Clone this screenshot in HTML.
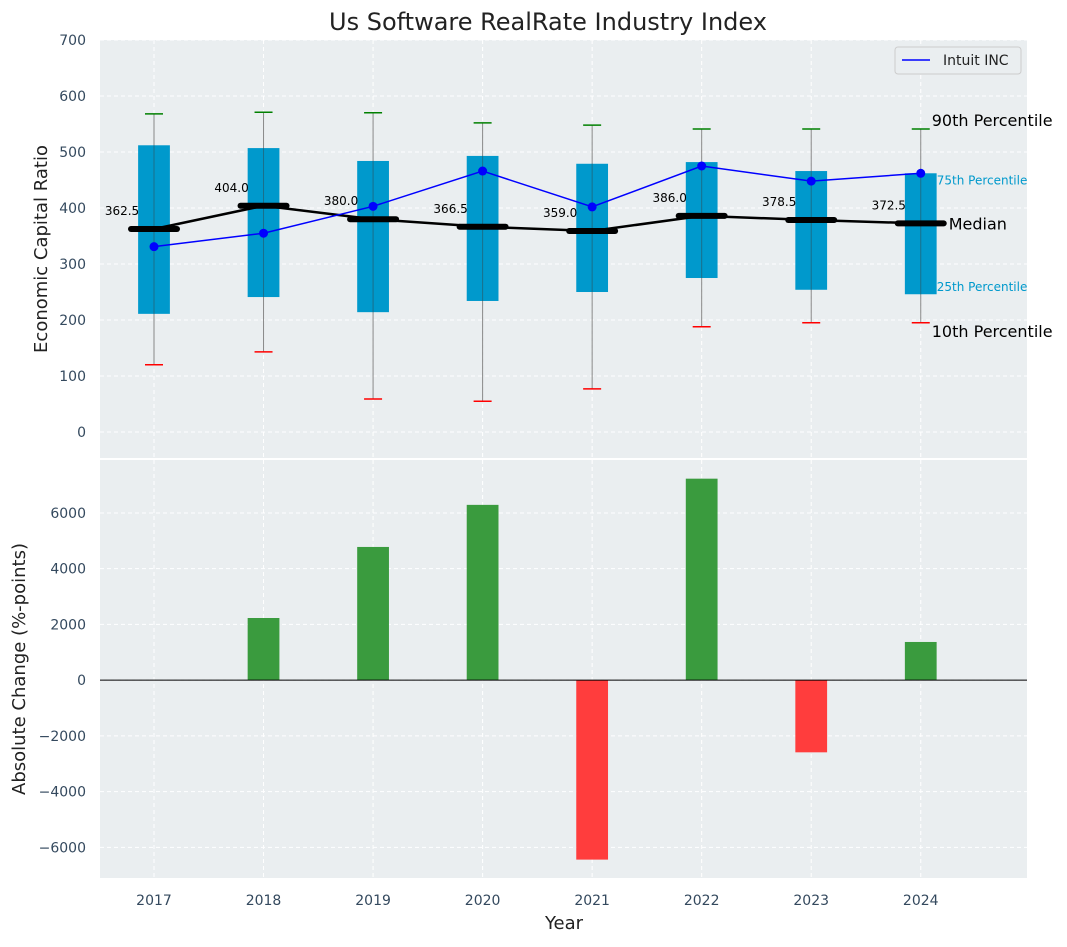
<!DOCTYPE html>
<html><head><meta charset="utf-8"><style>
body{margin:0;background:#fff;font-family:"Liberation Sans","DejaVu Sans",sans-serif}
</style></head><body>
<svg id="c" width="1067" height="942" xmlns="http://www.w3.org/2000/svg" font-family="DejaVu Sans, Liberation Sans, sans-serif"></svg>
<script>
const years=[2017,2018,2019,2020,2021,2022,2023,2024];
const p10=[120,143,59,55,77,188,195,195];
const p25=[211,241,214,234,250,275,254,246];
const med=[362.5,404.0,380.0,366.5,359.0,386.0,378.5,372.5];
const p75=[512,507,484,493,479,482,466,462];
const p90=[568,571,570,552,548,541,541,541];
const intuit=[331,355,403,466,402,475,448,462];
const change=[0,2230,4780,6290,-6440,7230,-2590,1370];
const topTicks=[0,100,200,300,400,500,600,700];
const botTicks=[-6000,-4000,-2000,0,2000,4000,6000];

const svg=document.getElementById('c');const NS='http://www.w3.org/2000/svg';
function el(t,a,p){const e=document.createElementNS(NS,t);for(const k in a)e.setAttribute(k,a[k]);(p||svg).appendChild(e);return e;}
const L=100,R=1027;
const X=v=>L+(v-2016.507)/(2024.97-2016.507)*(R-L);
const T0=40,T1=458,B0=460,B1=878;
const Y1=v=>T0+(700-v)/(746.4)*(T1-T0);
const Y2=v=>B0+(7900-v)/(15000)*(B1-B0);
let e=el('rect',{x:L,y:T0,width:R-L,height:T1-T0,fill:'#eaeef0'});

e=el('rect',{x:L,y:B0,width:R-L,height:B1-B0,fill:'#eaeef0'});

years.forEach(y=>{el('line',{x1:X(y),x2:X(y),y1:T0,y2:T1,stroke:'#fff','stroke-dasharray':'4,3'});el('line',{x1:X(y),x2:X(y),y1:B0,y2:B1,stroke:'#fff','stroke-dasharray':'4,3'});});
topTicks.forEach(v=>{el('line',{x1:L,x2:R,y1:Y1(v),y2:Y1(v),stroke:'#fff','stroke-dasharray':'4,3'});
 const t=el('text',{x:L-14,y:Y1(v)+5,'text-anchor':'end','font-size':14,fill:'#34495e'});t.textContent=v;
 });
botTicks.forEach(v=>{el('line',{x1:L,x2:R,y1:Y2(v),y2:Y2(v),stroke:'#fff','stroke-dasharray':'4,3'});
 const t=el('text',{x:L-14,y:Y2(v)+5,'text-anchor':'end','font-size':14,fill:'#34495e'});t.textContent=v<0?'\u2212'+(-v):v;
 });
years.forEach(y=>{const t=el('text',{x:X(y),y:905,'text-anchor':'middle','font-size':14,fill:'#34495e'});t.textContent=y;
 });
const bw=0.29*(X(1)-X(0));
years.forEach((y,i)=>{const cx=X(y);
 el('line',{x1:cx,x2:cx,y1:Y1(p90[i]),y2:Y1(p10[i]),stroke:'#888','stroke-width':1});
 const b=el('rect',{x:cx-bw/2,y:Y1(p75[i]),width:bw,height:Y1(p25[i])-Y1(p75[i]),fill:'#0099cc'});
 
 el('line',{x1:cx,x2:cx,y1:Y1(p75[i]),y2:Y1(p25[i]),stroke:'#1a6f8a','stroke-width':1});
 el('line',{x1:cx-9,x2:cx+9,y1:Y1(p90[i]),y2:Y1(p90[i]),stroke:'green','stroke-width':1.5});
 el('line',{x1:cx-9,x2:cx+9,y1:Y1(p10[i]),y2:Y1(p10[i]),stroke:'red','stroke-width':1.5});
 const m=el('line',{x1:cx-23,x2:cx+23,y1:Y1(med[i]),y2:Y1(med[i]),stroke:'#000','stroke-width':6,'stroke-linecap':'round'});
 
 const t=el('text',{x:cx-32,y:Y1(med[i])-14,'text-anchor':'middle','font-size':12,fill:'#000'});t.textContent=med[i].toFixed(1);
 
});
let pl=el('polyline',{points:years.map((y,i)=>X(y)+','+Y1(med[i])).join(' '),fill:'none',stroke:'#000','stroke-width':2.5});

pl=el('polyline',{points:years.map((y,i)=>X(y)+','+Y1(intuit[i])).join(' '),fill:'none',stroke:'blue','stroke-width':1.5});

years.forEach((y,i)=>{const c=el('circle',{cx:X(y),cy:Y1(intuit[i]),r:4.5,fill:'blue'});
 });
const li=years.length-1;
[['90th Percentile',X(2024)+11,Y1(p90[li])-3,16,'#000'],['75th Percentile',X(2024)+16,Y1(p75[li])+11,12,'#0099cc'],['Median',X(2024)+28,Y1(med[li])+6,16,'#000'],['25th Percentile',X(2024)+16,Y1(p25[li])-3,12,'#0099cc'],['10th Percentile',X(2024)+11,Y1(p10[li])+14,16,'#000']].forEach(a=>{
 const t=el('text',{x:a[1],y:a[2],'font-size':a[3],fill:a[4]});t.textContent=a[0];
 });
years.forEach((y,i)=>{const v=change[i];if(v===0)return;const y0=Y2(0),yv=Y2(v);
 const b=el('rect',{x:X(y)-bw/2,y:Math.min(y0,yv),width:bw,height:Math.abs(yv-y0),fill:v>0?'#3a9b3e':'#ff3d3d'});
 });
el('line',{x1:L,x2:R,y1:Y2(0),y2:Y2(0),stroke:'#000','stroke-width':1});
const g=el('g',{});
el('rect',{x:895,y:47,width:126,height:27,fill:'#eaeef0',stroke:'#ccc',rx:3},g);
el('line',{x1:902,x2:930,y1:60,y2:60,stroke:'blue','stroke-width':1.5},g);
let t=el('text',{x:943,y:65,'font-size':14,fill:'#222'},g);t.textContent='Intuit INC';
t=el('text',{x:548,y:30,'text-anchor':'middle','font-size':24,fill:'#222'});t.textContent='Us Software RealRate Industry Index';

t=el('text',{x:47,y:249,'text-anchor':'middle','font-size':18,fill:'#222',transform:'rotate(-90 47 249)'});t.textContent='Economic Capital Ratio';

t=el('text',{x:25,y:669,'text-anchor':'middle','font-size':18,fill:'#222',transform:'rotate(-90 25 669)'});t.textContent='Absolute Change (%-points)';

t=el('text',{x:564,y:929,'text-anchor':'middle','font-size':18,fill:'#222'});t.textContent='Year';

</script>
</body></html>
